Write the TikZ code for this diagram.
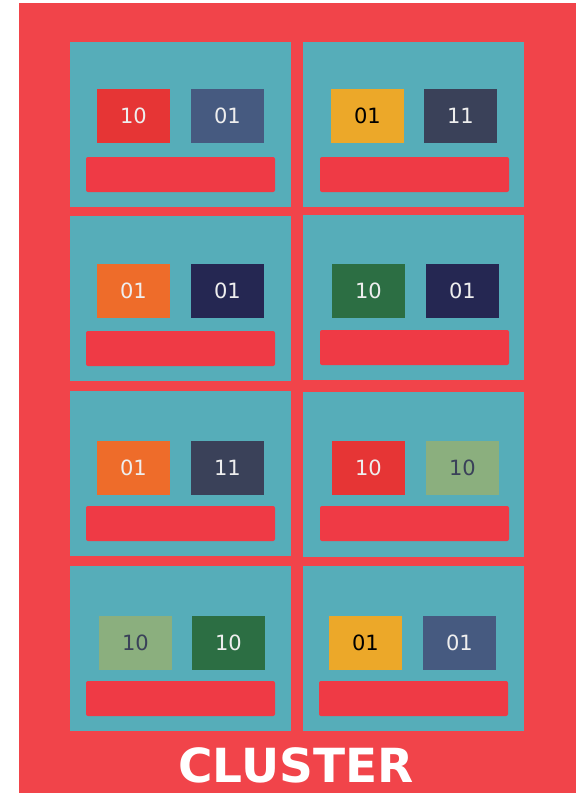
\documentclass[tikz,border=0pt]{standalone}
\usepackage{fontspec}
\setmainfont{DejaVu Sans}
\usetikzlibrary{positioning}
\definecolor{ClusterRed}{HTML}{F1444A}
\definecolor{PodTeal}{HTML}{56ADB9}
\definecolor{BarRed}{HTML}{EF3A45}
\definecolor{BitRed}{HTML}{E63535}
\definecolor{BitBlue}{HTML}{465A80}
\definecolor{BitYellow}{HTML}{ECA829}
\definecolor{BitSlate}{HTML}{3A4159}
\definecolor{BitOrange}{HTML}{EE6C2A}
\definecolor{BitNavy}{HTML}{252752}
\definecolor{BitGreen}{HTML}{2C6E43}
\definecolor{BitSage}{HTML}{8BAF7E}
\definecolor{LightText}{HTML}{EEEEEE}

\begin{document}
\begin{tikzpicture}[
                        x=1pt, y=-1pt,
                        every node/.style={inner sep=0pt, outer sep=0pt, anchor=north west},
                        pod/.style={fill=PodTeal, minimum width=221pt, minimum height=165pt},
                        bit/.style={minimum width=73pt, minimum height=54pt, font=\fontsize{21}{21}\selectfont, text=LightText},
                        bar/.style={fill=BarRed, rounded corners=2pt, minimum width=189pt, minimum height=35pt}
                    ]
                        \useasboundingbox (0,0) rectangle (580,793);
                        \fill[ClusterRed] (19,3) rectangle (576,793);
                        % row 1
                        \node[pod] (p1) at (70,42) {};
                        \node[bit, fill=BitRed] (p1a) at (97,89) {10};
                        \node[bit, fill=BitBlue] (p1b) at (191,89) {01};
                        \node[bar] (p1bar) at (86,157) {};
                        \node[pod] (p2) at (303,42) {};
                        \node[bit, fill=BitYellow, text=black] (p2a) at (331,89) {01};
                        \node[bit, fill=BitSlate] (p2b) at (424,89) {11};
                        \node[bar] (p2bar) at (320,157) {};
                        % row 2
                        \node[pod] (p3) at (70,216) {};
                        \node[bit, fill=BitOrange] (p3a) at (97,264) {01};
                        \node[bit, fill=BitNavy] (p3b) at (191,264) {01};
                        \node[bar] (p3bar) at (86,331) {};
                        \node[pod] (p4) at (303,215) {};
                        \node[bit, fill=BitGreen] (p4a) at (332,264) {10};
                        \node[bit, fill=BitNavy] (p4b) at (426,264) {01};
                        \node[bar] (p4bar) at (320,330) {};
                        % row 3
                        \node[pod] (p5) at (70,391) {};
                        \node[bit, fill=BitOrange] (p5a) at (97,441) {01};
                        \node[bit, fill=BitSlate] (p5b) at (191,441) {11};
                        \node[bar] (p5bar) at (86,506) {};
                        \node[pod] (p6) at (303,392) {};
                        \node[bit, fill=BitRed] (p6a) at (332,441) {10};
                        \node[bit, fill=BitSage, text=BitSlate] (p6b) at (426,441) {10};
                        \node[bar] (p6bar) at (320,506) {};
                        % row 4
                        \node[pod] (p7) at (70,566) {};
                        \node[bit, fill=BitSage, text=BitSlate] (p7a) at (99,616) {10};
                        \node[bit, fill=BitGreen] (p7b) at (192,616) {10};
                        \node[bar] (p7bar) at (86,681) {};
                        \node[pod] (p8) at (303,566) {};
                        \node[bit, fill=BitYellow, text=black] (p8a) at (329,616) {01};
                        \node[bit, fill=BitBlue] (p8b) at (423,616) {01};
                        \node[bar] (p8bar) at (319,681) {};
                        \node[anchor=base, text=white, font=\fontsize{47}{47}\selectfont\bfseries] (title) at (296,782) {CLUSTER};
                    \end{tikzpicture}
\end{document}
